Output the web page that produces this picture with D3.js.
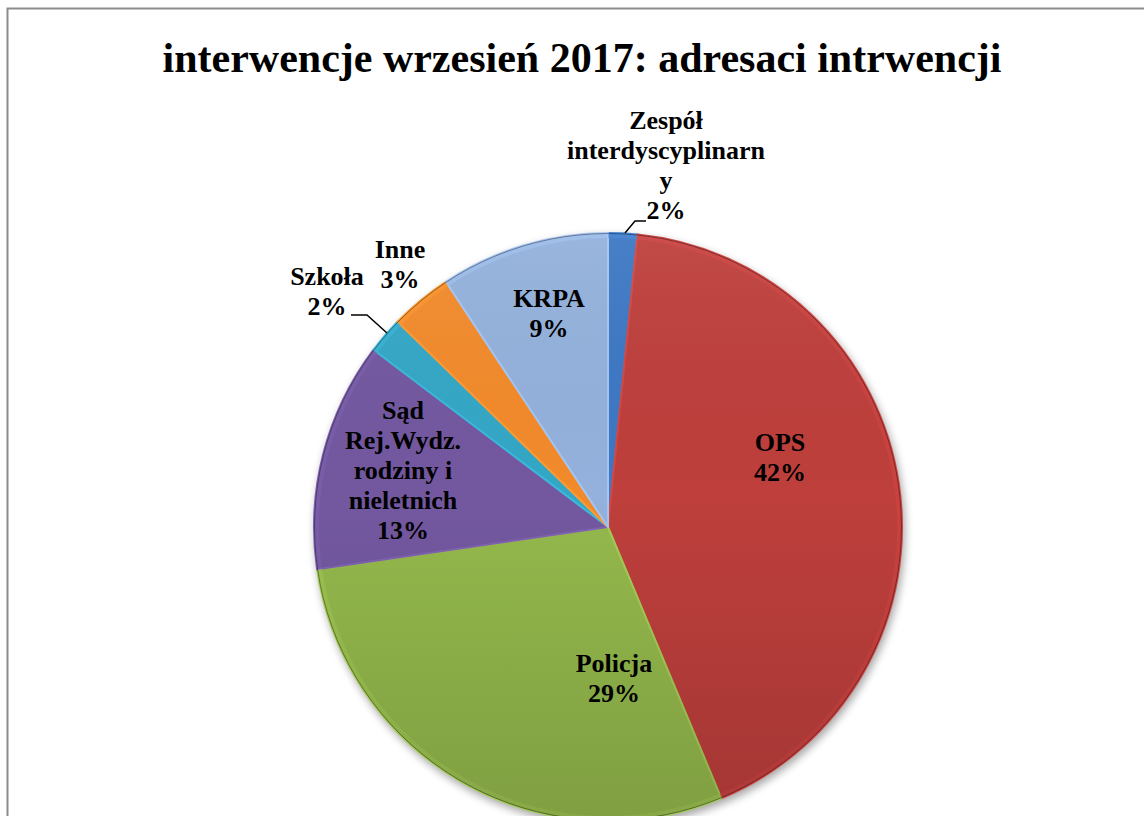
<!DOCTYPE html>
<html>
<head>
<meta charset="utf-8">
<script src="https://cdn.jsdelivr.net/npm/d3@7"></script>
<style>
  html, body { margin: 0; padding: 0; background: #fff; }
  svg { display: block; }
</style>
</head>
<body>
<svg id="chart" width="1144" height="816"></svg>
<script>
// data
const categories = ["Zespół interdyscyplinarny", "OPS", "Policja", "Sąd Rej.Wydz. rodziny i nieletnich", "Szkoła", "Inne", "KRPA"]
const shares = [1.6, 42.1, 29.0, 12.6, 2.0, 3.4, 9.3]
const colors = ["#3d78c4", "#be3f3c", "#94b94c", "#7358a0", "#34a7c6", "#f28a2b", "#93b1dc"]
// label lines as Excel wrapped them
const labelLines = [
    ["Zespół", "interdyscyplinarn", "y"],
    ["OPS"],
    ["Policja"],
    ["Sąd", "Rej.Wydz.", "rodziny i", "nieletnich"],
    ["Szkoła"],
    ["Inne"],
    ["KRPA"]
]

const FONT = '"Liberation Serif"'
const svg = d3.select("#chart")
const cx = 608, cy = 527, r = 294

// frame of the chart area
svg.append("rect")
    .attr("x", 7.5).attr("y", 8.5)
    .attr("width", 1200).attr("height", 900)
    .attr("fill", "none")
    .attr("stroke", "#8c8c8c")
    .attr("stroke-width", 2)

svg.append("text")
    .attr("x", 582).attr("y", 72)
    .attr("text-anchor", "middle")
    .style("font-family", FONT)
    .style("font-weight", "bold")
    .style("font-size", "42px")
    .text("interwencje wrzesień 2017: adresaci intrwencji")

const defs = svg.append("defs")
const shadow = defs.append("filter").attr("id", "shadow")
    .attr("x", "-20%").attr("y", "-20%").attr("width", "140%").attr("height", "140%")
shadow.append("feGaussianBlur").attr("stdDeviation", 4)

const shade = defs.append("linearGradient").attr("id", "shade")
    .attr("x1", 0).attr("y1", 0).attr("x2", 0).attr("y2", 1)
shade.append("stop").attr("offset", "0%").attr("stop-color", "#fff").attr("stop-opacity", 0.06)
shade.append("stop").attr("offset", "45%").attr("stop-color", "#000").attr("stop-opacity", 0)
shade.append("stop").attr("offset", "100%").attr("stop-color", "#000").attr("stop-opacity", 0.14)

const pie = d3.pie().sort(null).value(d => d)
const arcs = pie(shares)
const arc = d3.arc().innerRadius(0).outerRadius(r)
const rim = d3.arc().innerRadius(r - 5).outerRadius(r - 1)

const g = svg.append("g").attr("transform", `translate(${cx},${cy})`)

g.append("circle")
    .attr("cx", 2).attr("cy", 4).attr("r", r + 1)
    .attr("fill", "#000").attr("opacity", 0.35)
    .attr("filter", "url(#shadow)")

g.selectAll("path.slice")
    .data(arcs)
    .enter()
    .append("path")
    .attr("class", "slice")
    .attr("d", arc)
    .attr("fill", (d, i) => colors[i])
    .attr("stroke", (d, i) => d3.color(colors[i]).brighter(0.3))
    .attr("stroke-width", 2)
    .attr("stroke-linejoin", "round")

// bevel highlight along the rim
g.selectAll("path.rim")
    .data(arcs)
    .enter()
    .append("path")
    .attr("class", "rim")
    .attr("d", rim)
    .attr("fill", (d, i) => d3.color(colors[i]).brighter(0.3))
    .attr("opacity", 0.5)

g.append("circle").attr("r", r).attr("fill", "url(#shade)")
g.append("circle").attr("r", r - 0.5).attr("fill", "none")
    .attr("stroke", "#000").attr("stroke-opacity", 0.4).attr("stroke-width", 1)

// label placement (centre x, first baseline y) as in the picture
const labelPos = [
    [666, 129],
    [780, 451],
    [614, 672],
    [403, 419],
    [327, 285],
    [400, 258],
    [549, 307]
]
const lineH = 30

const labels = svg.append("g").selectAll("text.lbl")
    .data(arcs)
    .enter()
    .append("text")
    .attr("class", "lbl")
    .attr("text-anchor", "middle")
    .style("font-family", FONT)
    .style("font-weight", "bold")
    .style("font-size", "26px")

labels.each(function(d, i) {
    const t = d3.select(this)
    const lines = labelLines[i].concat([Math.round(d.value) + "%"])
    lines.forEach((ln, k) => {
        t.append("tspan")
            .attr("x", labelPos[i][0])
            .attr("y", labelPos[i][1] + k * lineH)
            .text(ln)
    })
})

// leader lines for the two thin slices
const leaders = [
    [[625, 233], [635, 221], [646, 221]],
    [[387, 333], [367, 315], [351, 315]]
]
svg.append("g").selectAll("path.leader")
    .data(leaders)
    .enter()
    .append("path")
    .attr("class", "leader")
    .attr("d", d3.line())
    .attr("fill", "none")
    .attr("stroke", "#000")
    .attr("stroke-width", 1.5)
</script>
</body>
</html>
